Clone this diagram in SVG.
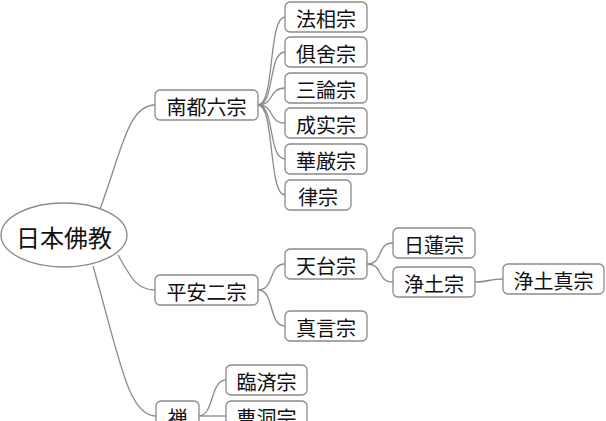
<svg xmlns="http://www.w3.org/2000/svg" width="606" height="421" viewBox="0 0 606 421">
<style>
.box{fill:#fff;stroke:#8a8a8a;stroke-width:1.3}
.t{font-family:"Noto Sans CJK JP","Noto Sans CJK SC",sans-serif;font-size:20px;fill:#111;text-anchor:middle;dominant-baseline:central}
.c{fill:none;stroke:#8a8a8a;stroke-width:1.3}
</style>
<rect width="606" height="421" fill="#fff"/>
<g id="connectors">
<path class="c" d="M100,209 C122,150 128,105 155,105"/>
<path class="c" d="M118,255 C132,280 138,290 155,290"/>
<path class="c" d="M93,266 C120,360 128,416 156,416"/>
<path class="c" d="M258,105 C275,105 268,17 285,17"/>
<path class="c" d="M258,105 C275,105 268,52 285,52"/>
<path class="c" d="M258,105 C275,105 268,88 285,88"/>
<path class="c" d="M258,105 C275,105 268,123 285,123"/>
<path class="c" d="M258,105 C275,105 268,159 285,159"/>
<path class="c" d="M258,105 C275,105 268,195 285,195"/>
<path class="c" d="M258,290 C275,290 268,264 285,264"/>
<path class="c" d="M258,290 C275,290 268,326 285,326"/>
<path class="c" d="M367,264 C384,264 376,243 393,243"/>
<path class="c" d="M367,264 C384,264 376,282 393,282"/>
<path class="c" d="M475,282 C490,282 488,279 503,279"/>
<path class="c" d="M199,416 C214,416 210,380 226,380"/>
<path class="c" d="M199,416 C214,416 210,416 226,416"/>
</g>
<g id="root">
<ellipse cx="64" cy="235" rx="63" ry="32" fill="#fff" stroke="#8a8a8a" stroke-width="1.3"/>
<text class="t" x="64" y="236" style="font-size:24px">日本佛教</text>
</g>
<g id="nanto"><rect class="box" x="155" y="90" width="103" height="30" rx="5"/><text class="t" x="206.5" y="106">南都六宗</text></g>
<g id="heian"><rect class="box" x="155" y="275" width="103" height="30" rx="5"/><text class="t" x="206.5" y="291">平安二宗</text></g>
<g id="zen"><rect class="box" x="156" y="401" width="43" height="30" rx="5"/><text class="t" x="177.5" y="417">禅</text></g>
<g id="hosso"><rect class="box" x="285" y="2" width="82" height="30" rx="5"/><text class="t" x="326" y="18">法相宗</text></g>
<g id="kusha"><rect class="box" x="285" y="37" width="82" height="30" rx="5"/><text class="t" x="326" y="53">俱舍宗</text></g>
<g id="sanron"><rect class="box" x="285" y="73" width="82" height="30" rx="5"/><text class="t" x="326" y="89">三論宗</text></g>
<g id="jojitsu"><rect class="box" x="285" y="108" width="82" height="30" rx="5"/><text class="t" x="326" y="124">成实宗</text></g>
<g id="kegon"><rect class="box" x="285" y="144" width="82" height="30" rx="5"/><text class="t" x="326" y="160">華厳宗</text></g>
<g id="ritsu"><rect class="box" x="285" y="180" width="66" height="30" rx="5"/><text class="t" x="318" y="196">律宗</text></g>
<g id="tendai"><rect class="box" x="285" y="249" width="82" height="30" rx="5"/><text class="t" x="326" y="265">天台宗</text></g>
<g id="shingon"><rect class="box" x="285" y="311" width="82" height="30" rx="5"/><text class="t" x="326" y="327">真言宗</text></g>
<g id="nichiren"><rect class="box" x="393" y="228" width="82" height="30" rx="5"/><text class="t" x="434" y="244">日蓮宗</text></g>
<g id="jodo"><rect class="box" x="393" y="267" width="82" height="30" rx="5"/><text class="t" x="434" y="283">浄土宗</text></g>
<g id="jodoshin"><rect class="box" x="503" y="264" width="101" height="30" rx="5"/><text class="t" x="553.5" y="280">浄土真宗</text></g>
<g id="rinzai"><rect class="box" x="226" y="365" width="81" height="30" rx="5"/><text class="t" x="266.5" y="381">臨済宗</text></g>
<g id="soto"><rect class="box" x="226" y="401" width="81" height="30" rx="5"/><text class="t" x="266.5" y="417">曹洞宗</text></g>
</svg>
